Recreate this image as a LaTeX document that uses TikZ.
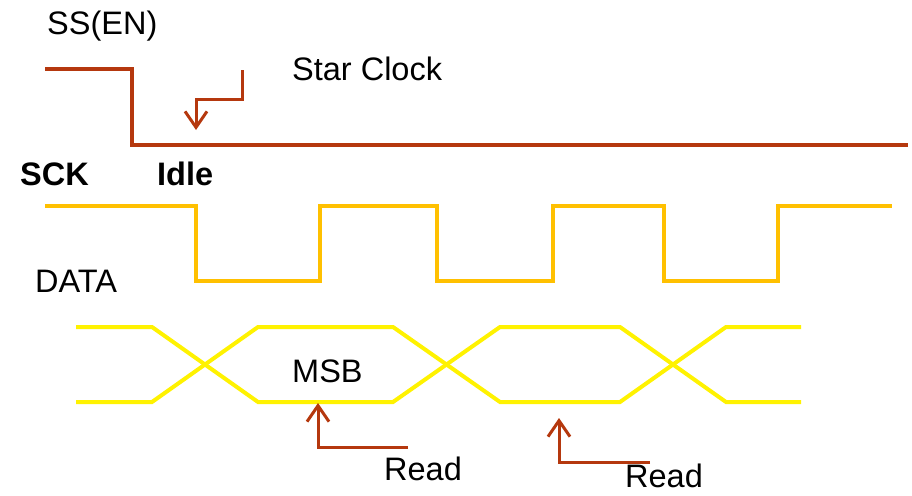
\documentclass[tikz,border=0pt]{standalone}
\usepackage{fontspec}
\setmainfont{Liberation Sans}
\usetikzlibrary{arrows.meta}
\definecolor{ssred}{RGB}{181,56,14}
\definecolor{sckorange}{RGB}{255,192,0}
\definecolor{datayellow}{RGB}{255,242,0}
\tikzset{
  lbl/.style={anchor=base west, inner sep=0pt, font=\fontsize{32.5}{36}\selectfont},
  blbl/.style={lbl, font=\fontsize{32.5}{36}\selectfont\bfseries},
  sswave/.style={draw=ssred, line width=4pt},
  sckwave/.style={draw=sckorange, line width=4pt},
  datawave/.style={draw=datayellow, line width=4pt},
  pointer/.style={draw=ssred, line width=3pt, -{Straight Barb[length=16pt,width=22pt,line width=3pt]}}
}
\begin{document}
\begin{tikzpicture}[x=1pt,y=-1pt]
\useasboundingbox (0,0) rectangle (912,495);
% labels
\node[lbl] (ss) at (47,35) {SS(EN)};
\node[lbl] (star) at (292,80) {Star Clock};
\node[blbl] (sck) at (20,185) {SCK};
\node[blbl] (idle) at (157,185) {Idle};
\node[lbl] (data) at (35,292) {DATA};
\node[lbl] (msb) at (292,382) {MSB};
\node[lbl] (read1) at (384,480) {Read};
\node[lbl] (read2) at (625,487) {Read};
% SS waveform
\coordinate (s0) at (45,69);
\coordinate (s1) at (132,69);
\coordinate (s2) at (132,145);
\coordinate (s3) at (908,145);
\draw[sswave] (s0) -- (s1) -- (s2) -- (s3);
% Start clock pointer
\coordinate (p0) at (242,70);
\coordinate (p1) at (242,99);
\coordinate (p2) at (196,99);
\coordinate (p3) at (196,130);
\draw[pointer] (p0) -- (p1) -- (p2) -- (p3);
% SCK waveform
\draw[sckwave] (45,206) -- (196,206) -- (196,281) -- (320,281) -- (320,206)
  -- (437,206) -- (437,281) -- (553,281) -- (553,206) -- (664,206)
  -- (664,281) -- (778,281) -- (778,206) -- (892,206);
% DATA waveform
\draw[datawave] (76,327) -- (152,327) -- (258,402) -- (393,402) -- (500,327)
  -- (620,327) -- (726,402) -- (801,402);
\draw[datawave] (76,402) -- (152,402) -- (258,327) -- (393,327) -- (500,402)
  -- (620,402) -- (726,327) -- (801,327);
% Read pointers
\coordinate (r1a) at (408,447);
\coordinate (r1b) at (318,447);
\coordinate (r1c) at (318,403);
\draw[pointer] (r1a) -- (r1b) -- (r1c);
\coordinate (r2a) at (650,462);
\coordinate (r2b) at (559,462);
\coordinate (r2c) at (559,418);
\draw[pointer] (r2a) -- (r2b) -- (r2c);
\end{tikzpicture}
\end{document}
